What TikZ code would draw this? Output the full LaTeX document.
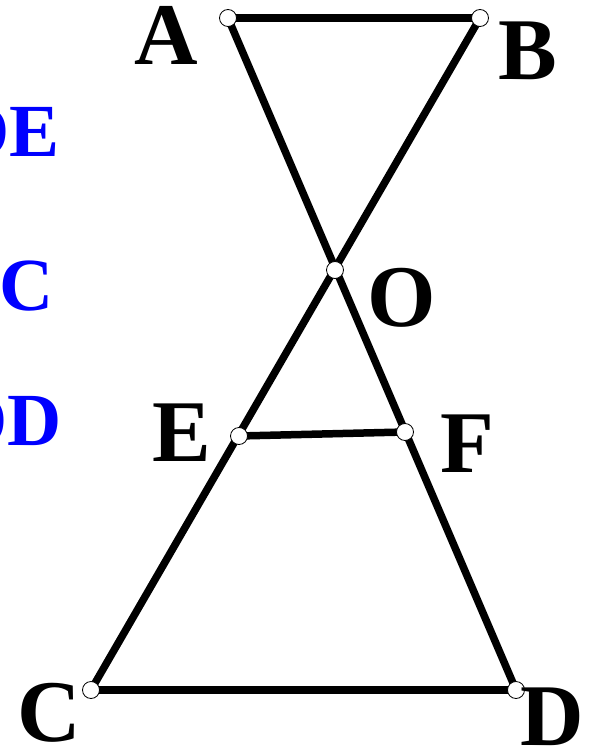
\documentclass[tikz,border=0pt]{standalone}
\usepackage{fontspec}
\setmainfont{Liberation Serif}
\usepackage{xcolor}
\usepackage{tikz}
\usetikzlibrary{positioning}
\definecolor{gblue}{RGB}{0,0,255}
\tikzset{
  seg/.style  ={draw=black, line width=7.5pt, line cap=round, line join=round},
  dot/.style  ={circle, draw=black, fill=white, line width=0.8pt,
                minimum size=17pt, inner sep=0pt},
  lab/.style  ={anchor=base west, inner sep=0pt,
                font=\fontsize{88}{90}\selectfont\bfseries},
  hint/.style ={anchor=base east, inner sep=0pt, text=gblue,
                font=\fontsize{75}{77}\selectfont\bfseries}
}
\begin{document}
\begin{tikzpicture}[x=1pt,y=-1pt]
\useasboundingbox (0,0) rectangle (590,749);
% points
\coordinate (A) at (228,18);
\coordinate (B) at (480,18);
\coordinate (O) at (335,270);
\coordinate (E) at (239,436);
\coordinate (F) at (405,432);
\coordinate (C) at (91,690);
\coordinate (D) at (516,690);
% segments
\draw[seg] (A) -- (B);
\draw[seg] (A) -- (D);
\draw[seg] (B) -- (C);
\draw[seg] (E) -- (F);
\draw[seg] (C) -- (D);
% dots
\foreach \p in {A,B,O,E,F,C,D}
  \node[dot] (d\p) at (\p) {};
% labels
\node[lab] (lA) at (134,65) {A};
\node[lab] (lB) at (498,80) {B};
\node[lab] (lO) at (367,326) {O};
\node[lab] (lE) at (152,461) {E};
\node[lab] (lF) at (440,472) {F};
\node[lab] (lC) at (17,741) {C};
\node[lab] (lD) at (520,745) {D};
% cropped side text
\node[hint] (h1) at (60,157) {DE};
\node[hint] (h2) at (54,310) {C};
\node[hint] (h3) at (62,445) {DD};
\end{tikzpicture}
\end{document}
